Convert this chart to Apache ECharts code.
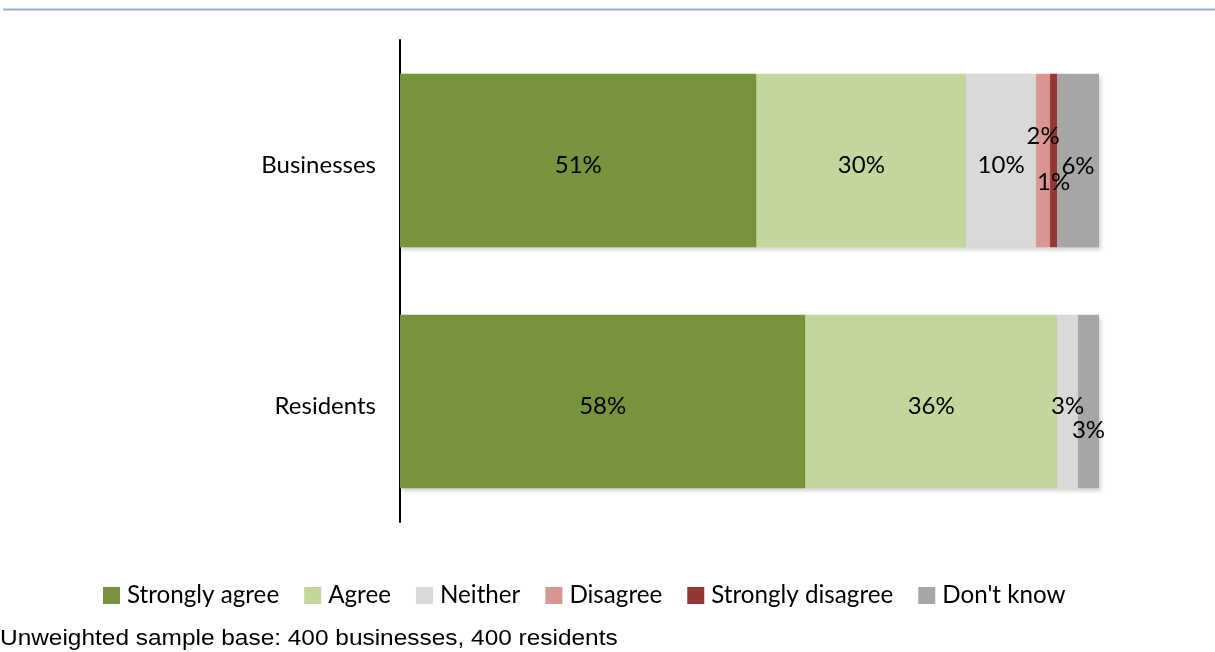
<!DOCTYPE html>
<html><head><meta charset="utf-8">
<script src="https://cdn.jsdelivr.net/npm/echarts@6/dist/echarts.min.js"></script>
<style>html,body{margin:0;padding:0;background:#fff}#c{width:1215px;height:652px}</style>
</head><body><div id="c"></div>
<script>
const categories = ["Businesses", "Residents"];
const seriesNames = ["Strongly agree", "Agree", "Neither", "Disagree", "Strongly disagree", "Don't know"];
const stronglyAgree = [51, 58];
const agree = [30, 36];
const neither = [10, 3];
const disagree = [2, 0];
const stronglyDisagree = [1, 0];
const dontKnow = [6, 3];
const colors = ["#77933C", "#C3D69B", "#D9D9D9", "#D99694", "#953735", "#A6A6A6"];
const note = "Unweighted sample base: 400 businesses, 400 residents";

// label offsets for crowded small segments, key = seriesIndex-categoryIndex
const labelOffsets = {
  "3-0": [0, -24],
  "4-0": [0, 22],
  "5-0": [0, 6],
  "2-1": [0, 5],
  "5-1": [0, 29]
};

const values = [stronglyAgree, agree, neither, disagree, stronglyDisagree, dontKnow];
const FONT = "Lato";

const series = seriesNames.map((name, si) => ({
  name: name,
  type: 'bar',
  stack: 'total',
  barCategoryGap: '28%',
  itemStyle: { color: colors[si], shadowColor: 'rgba(0,0,0,0.18)', shadowBlur: 4, shadowOffsetX: 2, shadowOffsetY: 3 },
  data: values[si].map((v, ci) => {
    const off = labelOffsets[si + "-" + ci];
    const item = { value: v === 0 ? null : v };
    if (off) item.label = { offset: off };
    return item;
  }),
  label: {
    show: true,
    position: 'inside',
    offset: [0, 5],
    color: '#000',
    fontFamily: FONT,
    fontSize: 24,
    formatter: p => p.value == null ? '' : p.value + '%'
  }
}));

const chart = echarts.init(document.getElementById('c'));
chart.setOption({
  animation: false,
  backgroundColor: '#fff',
  color: colors,
  grid: { left: 400, right: 116, top: 40, bottom: 130 },
  xAxis: { type: 'value', min: 0, max: 100, show: false },
  yAxis: {
    type: 'category',
    data: categories,
    inverse: true,
    axisLine: { show: true, lineStyle: { color: '#000', width: 2 } },
    axisTick: { show: false },
    axisLabel: {
      color: '#000', fontFamily: FONT, fontSize: 24, margin: 24,
      formatter: v => '{a|' + v + '}',
      rich: { a: { color: '#000', fontFamily: FONT, fontSize: 24, padding: [10, 0, 0, 0] } }
    }
  },
  legend: {
    top: 583.5,
    left: 103,
    padding: 0,
    itemWidth: 17,
    itemHeight: 17,
    itemGap: 25,
    icon: 'rect',
    textStyle: { color: '#000', fontFamily: FONT, fontSize: 24.2, lineHeight: 24, padding: [0, 0, 0, 2] },
    data: seriesNames
  },
  graphic: [{
    type: 'line',
    shape: { x1: 3, y1: 9.5, x2: 1215, y2: 9.5 },
    style: { stroke: '#95B3D7', lineWidth: 2 }
  }, {
    type: 'text',
    x: 0,
    y: 639,
    scaleX: 1.11,
    style: { text: note, font: '22px "Liberation Sans"', fill: '#000', verticalAlign: 'middle' }
  }],
  series: series
});
</script></body></html>
